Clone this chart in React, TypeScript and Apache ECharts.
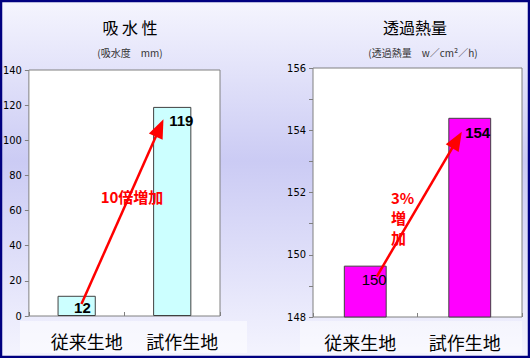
import React, { useEffect, useRef } from "react";
import * as echarts from "echarts";

const categories = ["従来生地", "試作生地"];
const absorption = [11.5, 119];
const heatFlux = [149.65, 154.4];
const absorptionArrow = [[0.05, 6.8], [0.868, 107]];
const heatArrow = [[0.11, 149.3], [0.878, 153.69]];
const absorptionNote = "10倍増加";
const heatNote = "3%\n増\n加";

const NUM_FONT = "'Liberation Sans Narrow', 'DejaVu Sans Condensed', sans-serif";
const JP_FONT = "'Noto Sans CJK JP', sans-serif";

export default function App() {
  const ref = useRef<HTMLDivElement>(null);
  useEffect(() => {
    if (!ref.current) return;
    const chart = echarts.init(ref.current, null, { renderer: "svg" });
    const labelOffsets = [
      [[-5, 4.5], [2, 6.5]],
      [[0, 6.5], [-1, 7.5]],
    ];
    const barData = (vals: number[], k: number) =>
      vals.map((v, i) => ({
        value: v,
        label: { offset: labelOffsets[k][i], fontWeight: k === 1 && i === 0 ? "normal" : "bold" },
      }));
    const yAxisCommon = {
      axisLine: { show: false, onZero: false },
      axisTick: { show: true, length: 4, lineStyle: { color: "#808080" } },
      splitLine: { show: false },
      axisLabel: { fontFamily: NUM_FONT, fontSize: 11, color: "#000", margin: 7 },
    };
    const catAxis = (gi: number, pad: number[]) => ({
      type: "category",
      gridIndex: gi,
      data: categories,
      axisLine: { show: false, onZero: false },
      axisTick: { show: true, inside: true, length: 4, lineStyle: { color: "#808080" } },
      axisLabel: {
        fontFamily: JP_FONT,
        fontSize: 18,
        color: "#000",
        margin: 16,
        padding: pad,
      },
    });
    const hiddenX = (gi: number) => ({
      type: "value",
      gridIndex: gi,
      min: -0.5,
      max: 1.5,
      show: false,
      axisLine: { show: false, onZero: false },
    });
    const arrowSeries = (xi: number, yi: number, pts: number[][]) => ({
      type: "line",
      xAxisIndex: xi,
      yAxisIndex: yi,
      data: pts,
      symbol: "none",
      lineStyle: { width: 0, opacity: 0 },
      silent: true,
      z: 5,
      markLine: {
        silent: true,
        symbol: ["none", "triangle"],
        symbolSize: [15, 19],
        label: { show: false },
        lineStyle: { color: "#ff0000", width: 2.5, type: "solid" },
        itemStyle: { color: "#ff0000" },
        data: [[{ coord: pts[0] }, { coord: pts[1] }]],
      },
    });
    const option: any = {
      animation: false,
      backgroundColor: {
        type: "linear",
        x: 0,
        y: 0,
        x2: 0,
        y2: 1,
        colorStops: [
          { offset: 0, color: "#f5f5fe" },
          { offset: 0.45, color: "#cbcbf4" },
          { offset: 1, color: "#f4f4fe" },
        ],
      },
      title: [
        { text: "吸 水 性", left: 125, top: 14, textAlign: "center", textStyle: { fontFamily: JP_FONT, fontSize: 16, fontWeight: "normal", color: "#000" } },
        { text: "(吸水度　mm)", left: 125, top: 42, textAlign: "center", textStyle: { fontFamily: JP_FONT, fontSize: 10, fontWeight: "normal", color: "#333" } },
        { text: "透過熱量", left: 410, top: 14, textAlign: "center", textStyle: { fontFamily: JP_FONT, fontSize: 16, fontWeight: "normal", color: "#000" } },
        { text: "(透過熱量　w／cm²／h)", left: 418, top: 42, textAlign: "center", textStyle: { fontFamily: JP_FONT, fontSize: 10, fontWeight: "normal", color: "#333" } },
      ],
      grid: [
        { left: 27, right: 310, top: 70, bottom: 42, show: true, backgroundColor: "#ffffff", borderColor: "#808080", borderWidth: 1 },
        { left: 313, right: 8, top: 68, bottom: 41, show: true, backgroundColor: "#ffffff", borderColor: "#808080", borderWidth: 1 },
      ],
      xAxis: [catAxis(0, [0, 0, 0, 20]), catAxis(1, [0, 10, 0, 0]), hiddenX(0), hiddenX(1)],
      yAxis: [
        { type: "value", gridIndex: 0, min: 0, max: 140, interval: 20, ...yAxisCommon },
        {
          type: "value",
          gridIndex: 1,
          min: 148,
          max: 156,
          interval: 1,
          ...yAxisCommon,
          axisLabel: { ...yAxisCommon.axisLabel, formatter: (v: number) => (v % 2 === 0 ? String(v) : "") },
        },
      ],
      series: [
        {
          type: "bar",
          xAxisIndex: 0,
          yAxisIndex: 0,
          barWidth: "40%",
          data: barData(absorption, 0),
          itemStyle: { color: "#ccffff", borderColor: "#404040", borderWidth: 1 },
          label: {
            show: true,
            position: "insideTopRight",
            distance: 0,
            fontFamily: "'Liberation Sans', Arial, sans-serif",
            fontSize: 15,
            color: "#000",
            formatter: (p: any) => String(Math.round(p.value)),
          },
        },
        {
          type: "bar",
          xAxisIndex: 1,
          yAxisIndex: 1,
          barWidth: "41%",
          data: barData(heatFlux, 1),
          itemStyle: { color: "#ff00ff", borderColor: "#404040", borderWidth: 1 },
          label: {
            show: true,
            position: "insideTopRight",
            distance: 0,
            fontFamily: "'Liberation Sans', Arial, sans-serif",
            fontSize: 15,
            color: "#000",
            formatter: (p: any) => String(Math.round(p.value)),
          },
        },
        arrowSeries(2, 0, absorptionArrow),
        arrowSeries(3, 1, heatArrow),
      ],
      graphic: [
        { type: "rect", z: -1, shape: { x: 20, y: 321, width: 227, height: 32 }, style: { fill: "rgba(255,255,255,0.55)" }, silent: true },
        { type: "rect", z: -1, shape: { x: 300, y: 321, width: 222, height: 32 }, style: { fill: "rgba(255,255,255,0.45)" }, silent: true },
        {
          type: "text",
          x: 132,
          y: 196,
          z: 10,
          style: { text: absorptionNote, fill: "#ff0000", font: `bold 15px ${JP_FONT}`, align: "center", verticalAlign: "middle" },
        },
        {
          type: "text",
          x: 391,
          y: 187,
          z: 10,
          style: { text: heatNote, fill: "#ff0000", font: `bold 15px ${JP_FONT}`, lineHeight: 20, align: "left", verticalAlign: "top" },
        },
        {
          type: "rect",
          z: 100,
          shape: { x: 1, y: 1, width: 528, height: 356 },
          style: { fill: "none", stroke: "#000080", lineWidth: 2.5 },
          silent: true,
        },
      ],
    };
    chart.setOption(option);
    return () => chart.dispose();
  }, []);
  return <div ref={ref} style={{ position: "absolute", left: 0, top: 0, width: 530, height: 358 }} />;
}
